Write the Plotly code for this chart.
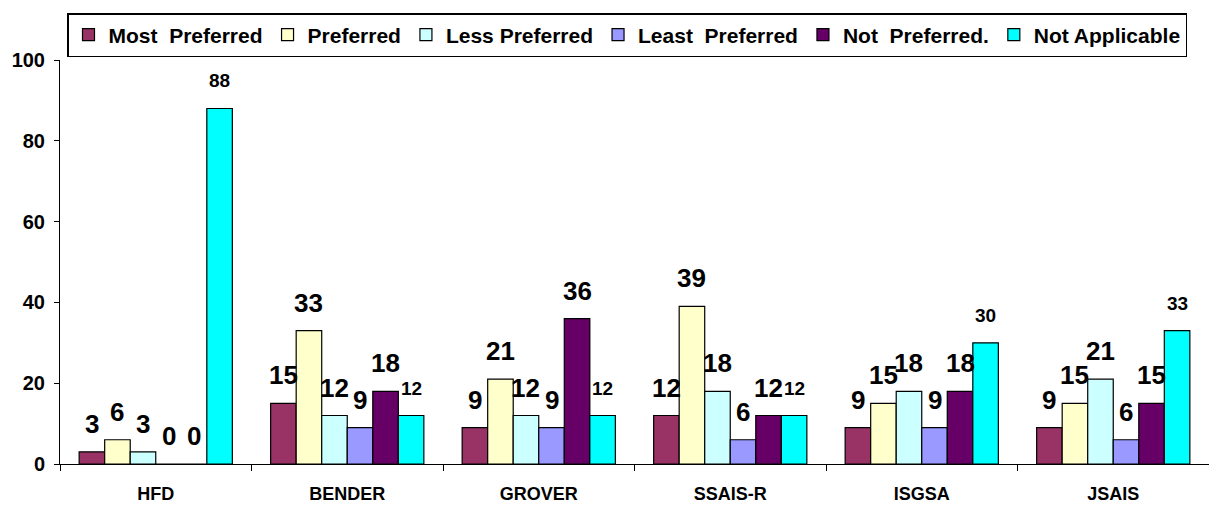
import plotly.graph_objects as go

# Test names along the x axis
tests = ["HFD", "BENDER", "GROVER", "SSAIS-R", "ISGSA", "JSAIS"]

# Preference levels (legend order)
levels = ["Most\u00a0\u00a0Preferred", "Preferred", "Less Preferred",
          "Least\u00a0\u00a0Preferred", "Not\u00a0\u00a0Preferred.", "Not Applicable"]

# Percentage of respondents per test, one list per preference level
most_preferred = [3, 15, 9, 12, 9, 9]
preferred = [6, 33, 21, 39, 15, 15]
less_preferred = [3, 12, 12, 18, 18, 21]
least_preferred = [0, 9, 9, 6, 9, 6]
not_preferred = [0, 18, 36, 12, 18, 15]
not_applicable = [88, 12, 12, 12, 30, 33]

series = [most_preferred, preferred, less_preferred,
          least_preferred, not_preferred, not_applicable]
colors = ["#993366", "#FFFFCC", "#CCFFFF", "#9999FF", "#660066", "#00FFFF"]

FONT = "Arial, 'Liberation Sans', sans-serif"

fig = go.Figure()
for name, vals, col in zip(levels, series, colors):
    fig.add_trace(go.Bar(
        x=tests, y=vals, name=f"<b>{name}</b>",
        marker=dict(color=col, line=dict(color="black", width=1.2)),
        hoverinfo="x+y+name",
    ))

# Value labels above each bar
W, H = 1209, 506
ML, MR, MT, MB = 60, 0, 60, 42
cat_px = (W - ML - MR) / len(tests)
bargap = 0.2
bar_px = cat_px * (1 - bargap) / len(series)
annotations = []
for j, vals in enumerate(series):
    small = j == len(series) - 1
    for t, v in zip(tests, vals):
        annotations.append(dict(
            x=t, y=v, xref="x", yref="y",
            text=f"<b>{v}</b>", showarrow=False,
            xanchor="center", yanchor="bottom",
            xshift=(j - (len(series) - 1) / 2) * bar_px,
            yshift=15 if small else 11,
            font=dict(family=FONT, size=19 if small else 26, color="black"),
        ))

fig.update_layout(
    width=W, height=H,
    margin=dict(l=ML, r=MR, t=MT, b=MB, autoexpand=False),
    paper_bgcolor="white", plot_bgcolor="white",
    barmode="group", bargap=bargap, bargroupgap=0,
    font=dict(family=FONT, color="black"),
    annotations=annotations,
    showlegend=True,
    legend=dict(
        orientation="h",
        x=(67 - ML) / (W - ML - MR), xanchor="left",
        y=1 + (MT - 13) / (H - MT - MB), yanchor="top",
        bordercolor="black", borderwidth=1.5, bgcolor="white",
        font=dict(family=FONT, size=21, color="black"),
        itemwidth=30, tracegroupgap=0,
    ),
    xaxis=dict(
        type="category", tickson="boundaries",
        showline=True, linecolor="black", linewidth=1,
        ticks="outside", ticklen=6, tickcolor="black",
        tickfont=dict(family=FONT, size=18, color="black"),
        tickprefix="<b>", ticksuffix="</b>",
        ticklabelstandoff=13,
        showgrid=False, zeroline=False,
    ),
    yaxis=dict(
        range=[0, 100], dtick=20,
        showline=True, linecolor="black", linewidth=1,
        ticks="outside", ticklen=5, tickcolor="black",
        tickfont=dict(family=FONT, size=20, color="black"),
        tickprefix="<b>", ticksuffix="</b>",
        ticklabelstandoff=5,
        showgrid=False, zeroline=False,
    ),
)

fig.write_html("out.html")
